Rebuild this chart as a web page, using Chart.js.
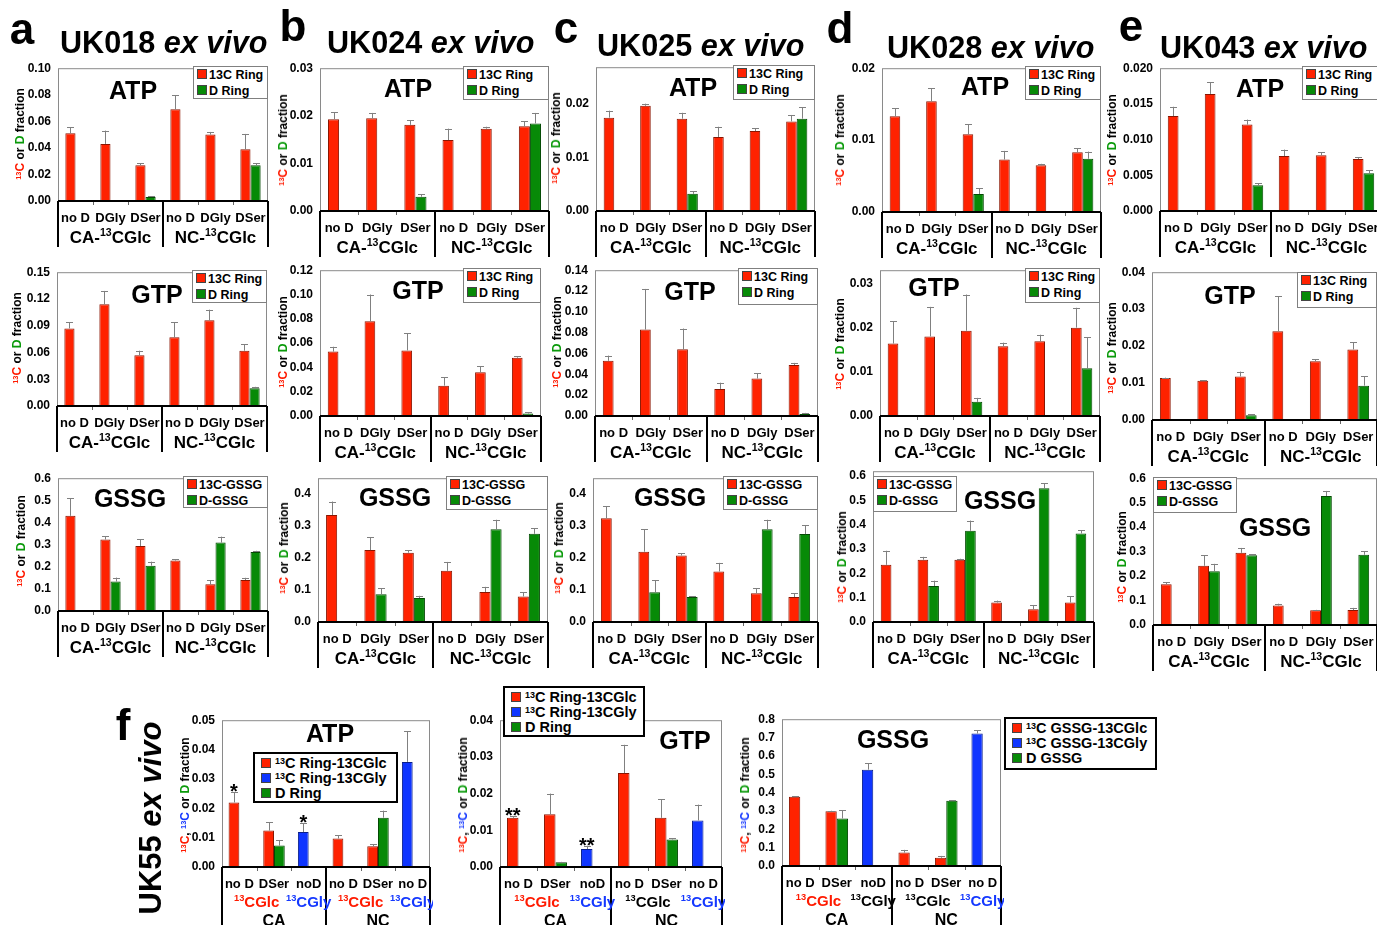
<!DOCTYPE html>
<html>
<head>
<meta charset="utf-8">
<title>UK ex vivo labelling</title>
<script src="https://cdn.jsdelivr.net/npm/chart.js@4.4.1/dist/chart.umd.min.js"></script>
<style>
  body { margin: 0; width: 1377px; height: 925px; overflow: hidden; position: relative; background: #fff;
         font-family: "Liberation Sans", Arial, sans-serif; font-weight: bold; color: #000; }
  canvas { position: absolute; }
  .txt { position: absolute; white-space: nowrap; line-height: 1; }
  .letter { font-size: 44px; transform: translate(-50%, -50%); }
  .head { font-size: 30.6px; transform: translateY(-50%); }
  .head i, .uk55 i { font-style: italic; }
  .ttl { font-size: 25px; transform: translate(-50%, -50%); }
  .ytl { font-size: 12px; transform: translate(-50%, -50%) rotate(-90deg); }
  .uk55 { font-size: 31px; transform: translate(-50%, -50%) rotate(-90deg); }
  .leg { position: absolute; box-sizing: border-box; background: #fff; border: 1px solid #808080;
         font-size: 12.5px; line-height: 16px; padding: 0 0 0 3px; white-space: nowrap; }
  .legf { border: 2px solid #000; font-size: 14.5px; line-height: 15px; padding: 2px 0 0 6px; }
  .sw { display: inline-block; width: 8px; height: 8px; border: 1px solid #444; margin-right: 2px; }
  .legf .sw { box-sizing: border-box; width: 10px; height: 10px; margin-right: 4px; }
  sup { font-size: 0.62em; vertical-align: 0.45em; line-height: 0; }
  .red { color: #ff1a00; } .grn { color: #0a9a0a; } .blu { color: #1438ff; }
</style>
</head>
<body>
<script>
// ---- labels ----
const cats = ['no D', 'DGly', 'DSer', 'no D', 'DGly', 'DSer'];
const groupLabels = ['CA-^13CGlc', 'NC-^13CGlc'];
const ringNames = ['13C Ring', 'D Ring'];
const gssgNames = ['13C-GSSG', 'D-GSSG'];
const headers = ['UK018', 'UK024', 'UK025', 'UK028', 'UK043'];

const fCats = ['no D', 'DSer', 'noD', 'no D', 'DSer', 'no D'];
const fSubLabels = ['^13CGlc', '^13CGly', '^13CGlc', '^13CGly'];
const fGroupLabels = ['CA', 'NC'];
const fRingNames = ['^13C Ring-13CGlc', '^13C Ring-13CGly', 'D Ring'];
const fGssgNames = ['^13C GSSG-13CGlc', '^13C GSSG-13CGly', 'D GSSG'];

// ---- ATP (row 1) ----
const atpA13C = [0.051, 0.043, 0.027, 0.069, 0.050, 0.039];
const atpA13CErr = [0.0045, 0.010, 0.0015, 0.0105, 0.002, 0.0115];
const atpAD = [null, null, 0.003, null, null, 0.027];
const atpADErr = [0, 0, 0.0007, 0, 0, 0.0015];

const atpB13C = [0.0193, 0.0195, 0.0181, 0.0149, 0.0173, 0.0178];
const atpB13CErr = [0.0014, 0.0011, 0.001, 0.0024, 0.0004, 0.0011];
const atpBD = [null, 0.0002, 0.003, null, null, 0.0184];
const atpBDErr = [0, 0, 0.0005, 0, 0, 0.0022];

const atpC13C = [0.0174, 0.0196, 0.0172, 0.0138, 0.0149, 0.0167];
const atpC13CErr = [0.0013, 0.0004, 0.0011, 0.0019, 0.0005, 0.0012];
const atpCD = [null, 0.0001, 0.0032, null, null, 0.0172];
const atpCDErr = [0, 0, 0.0005, 0, 0, 0.0021];

const atpD13C = [0.0133, 0.0154, 0.0108, 0.0073, 0.0065, 0.0083];
const atpD13CErr = [0.0011, 0.0018, 0.0014, 0.0012, 0.0002, 0.0006];
const atpDD = [0.0001, 0.0001, 0.0025, 0.0001, 0.0001, 0.0074];
const atpDDErr = [0, 0, 0.0008, 0, 0, 0.001];

const atpE13C = [0.0133, 0.0164, 0.0121, 0.0077, 0.0078, 0.0073];
const atpE13CErr = [0.0013, 0.0016, 0.0007, 0.0009, 0.0004, 0.0002];
const atpED = [0.0001, 0.0001, 0.0036, null, 0.0001, 0.0053];
const atpEDErr = [0, 0, 0.0003, 0, 0, 0.0004];

// ---- GTP (row 2) ----
const gtpA13C = [0.087, 0.114, 0.057, 0.077, 0.096, 0.062];
const gtpA13CErr = [0.007, 0.015, 0.005, 0.017, 0.012, 0.007];
const gtpAD = [null, null, 0.0005, null, null, 0.020];
const gtpADErr = [0, 0, 0, 0, 0, 0.0015];

const gtpB13C = [0.053, 0.078, 0.054, 0.025, 0.036, 0.048];
const gtpB13CErr = [0.004, 0.022, 0.014, 0.007, 0.005, 0.001];
const gtpBD = [null, 0.0005, null, null, 0.0005, 0.002];
const gtpBDErr = [0, 0, 0, 0, 0, 0.001];

const gtpC13C = [0.053, 0.083, 0.064, 0.026, 0.036, 0.049];
const gtpC13CErr = [0.005, 0.039, 0.020, 0.006, 0.005, 0.002];
const gtpCD = [null, 0.0005, null, null, 0.0005, 0.002];
const gtpCDErr = [0, 0, 0, 0, 0, 0.001];

const gtpD13C = [0.0164, 0.018, 0.0193, 0.0158, 0.0169, 0.020];
const gtpD13CErr = [0.005, 0.0067, 0.0082, 0.0008, 0.0015, 0.0045];
const gtpDD = [null, null, 0.0032, null, null, 0.0108];
const gtpDDErr = [0, 0, 0.0009, 0, 0, 0.007];

const gtpE13C = [0.0114, 0.0106, 0.0118, 0.024, 0.0159, 0.0191];
const gtpE13CErr = [0.0001, 0.0001, 0.0013, 0.0095, 0.0005, 0.002];
const gtpED = [0.0002, 0.0002, 0.0013, null, null, 0.0093];
const gtpEDErr = [0, 0, 0.0002, 0, 0, 0.0025];

// ---- GSSG (row 3) ----
const gssgA13C = [0.43, 0.323, 0.294, 0.228, 0.121, 0.14];
const gssgA13CErr = [0.08, 0.015, 0.03, 0.005, 0.018, 0.01];
const gssgAD = [null, 0.133, 0.205, null, 0.309, 0.267];
const gssgADErr = [0, 0.018, 0.018, 0, 0.027, 0.005];

const gssgB13C = [0.335, 0.225, 0.217, 0.16, 0.094, 0.08];
const gssgB13CErr = [0.042, 0.04, 0.008, 0.028, 0.016, 0.013];
const gssgBD = [null, 0.087, 0.075, null, 0.29, 0.276];
const gssgBDErr = [0, 0.018, 0.007, 0, 0.03, 0.017];

const gssgC13C = [0.325, 0.22, 0.208, 0.158, 0.09, 0.078];
const gssgC13CErr = [0.037, 0.07, 0.007, 0.027, 0.015, 0.012];
const gssgCD = [null, 0.093, 0.078, null, 0.29, 0.275];
const gssgCDErr = [0, 0.037, 0.002, 0, 0.03, 0.027];

const gssgD13C = [0.235, 0.256, 0.256, 0.08, 0.052, 0.08];
const gssgD13CErr = [0.058, 0.012, 0.004, 0.008, 0.018, 0.025];
const gssgDD = [null, 0.148, 0.375, null, 0.55, 0.364];
const gssgDDErr = [0, 0.022, 0.042, 0, 0.02, 0.014];

const gssgE13C = [0.167, 0.242, 0.295, 0.08, 0.06, 0.061];
const gssgE13CErr = [0.008, 0.043, 0.02, 0.007, 0.002, 0.009];
const gssgED = [0.003, 0.22, 0.285, 0.003, 0.527, 0.287];
const gssgEDErr = [0, 0.03, 0.005, 0, 0.021, 0.015];

// ---- UK55 (panel f) ----
const fAtpGlc = [0.022, 0.0124, null, 0.0097, 0.0071, null];
const fAtpGlcErr = [0.0035, 0.0028, 0, 0.0011, 0.0006, 0];
const fAtpGly = [null, null, 0.0119, null, null, 0.0358];
const fAtpGlyErr = [0, 0, 0.003, 0, 0, 0.0104];
const fAtpD = [null, 0.0073, 0.0001, null, 0.0168, 0.0001];
const fAtpDErr = [0, 0.0019, 0, 0, 0.0024, 0];
const fAtpGlcStars = ['*', '', '', '', '', ''];
const fAtpGlyStars = ['', '', '*', '', '', ''];

const fGtpGlc = [0.0134, 0.0144, null, 0.0256, 0.0134, null];
const fGtpGlcErr = [0.0005, 0.0056, 0, 0.0077, 0.005, 0];
const fGtpGly = [null, null, 0.0049, null, null, 0.0127];
const fGtpGlyErr = [0, 0, 0.0009, 0, 0, 0.0043];
const fGtpD = [null, 0.0013, null, null, 0.0075, null];
const fGtpDErr = [0, 0.0001, 0, 0, 0.0004, 0];
const fGtpGlcStars = ['**', '', '', '', '', ''];
const fGtpGlyStars = ['', '', '**', '', '', ''];

const fGssgGlc = [0.377, 0.298, null, 0.073, 0.045, null];
const fGssgGlcErr = [0.003, 0.003, 0, 0.015, 0.01, 0];
const fGssgGly = [null, null, 0.525, null, null, 0.722];
const fGssgGlyErr = [0, 0, 0.035, 0, 0, 0.018];
const fGssgD = [null, 0.259, 0.003, null, 0.355, null];
const fGssgDErr = [0, 0.046, 0, 0, 0.003, 0];

// ---- styling ----
const FONT = '"Liberation Sans", Arial, sans-serif';
const RED = '#ff2200', GREEN = '#078a07', BLUE = '#0f35ff';
const RED_EDGE = '#8a1500', GREEN_EDGE = '#034a03', BLUE_EDGE = '#0a1f8a';
const SUB_COLORS = { r: '#ff1a00', b: '#1438ff', k: '#000' };
Chart.defaults.font.family = FONT;

function two(names, c13, c13e, d, de) {
    return [
        { name: names[0], data: c13, err: c13e, color: RED, edge: RED_EDGE },
        { name: names[1], data: d, err: de, color: GREEN, edge: GREEN_EDGE }
    ];
}

function three(names, glc, glce, gly, glye, d, de, glcStars, glyStars) {
    return [
        { name: names[0], data: glc, err: glce, stars: glcStars, color: RED, edge: RED_EDGE, stack: 'L' },
        { name: names[1], data: gly, err: glye, stars: glyStars, color: BLUE, edge: BLUE_EDGE, stack: 'L' },
        { name: names[2], data: d, err: de, color: GREEN, edge: GREEN_EDGE, stack: 'R' }
    ];
}

const panels = [
    // ATP row
    { rect: [58, 66, 268, 201], max: 0.10, step: 0.02, dec: 2, leg: [193, 66, 268, 99], title: 'ATP', tpos: [133, 90], ypos: [20, 134],
      series: two(ringNames, atpA13C, atpA13CErr, atpAD, atpADErr) },
    { rect: [320, 66, 549, 211], max: 0.03, step: 0.01, dec: 2, leg: [463, 66, 549, 100], title: 'ATP', tpos: [408, 88], ypos: [283, 140],
      series: two(ringNames, atpB13C, atpB13CErr, atpBD, atpBDErr) },
    { rect: [596, 65, 815, 211], max: 0.0268, step: 0.01, dec: 2, leg: [733, 65, 815, 100], title: 'ATP', tpos: [693, 87], ypos: [556, 138],
      series: two(ringNames, atpC13C, atpC13CErr, atpCD, atpCDErr) },
    { rect: [882, 66, 1101, 212], max: 0.02, step: 0.01, dec: 2, leg: [1025, 66, 1101, 100], title: 'ATP', tpos: [985, 86], ypos: [840, 140],
      series: two(ringNames, atpD13C, atpD13CErr, atpDD, atpDDErr) },
    { rect: [1160, 66, 1382, 211], max: 0.02, step: 0.005, dec: 3, leg: [1302, 66, 1382, 100], title: 'ATP', tpos: [1260, 88], ypos: [1112, 140],
      series: two(ringNames, atpE13C, atpE13CErr, atpED, atpEDErr) },
    // GTP row
    { rect: [57, 270, 267, 406], max: 0.15, step: 0.03, dec: 2, leg: [192, 270, 267, 303], title: 'GTP', tpos: [157, 294], ypos: [17, 338],
      series: two(ringNames, gtpA13C, gtpA13CErr, gtpAD, gtpADErr) },
    { rect: [320, 268, 541, 416], max: 0.12, step: 0.02, dec: 2, leg: [463, 268, 541, 303], title: 'GTP', tpos: [418, 290], ypos: [283, 342],
      series: two(ringNames, gtpB13C, gtpB13CErr, gtpBD, gtpBDErr) },
    { rect: [595, 268, 818, 416], max: 0.14, step: 0.02, dec: 2, leg: [738, 268, 818, 305], title: 'GTP', tpos: [690, 291], ypos: [557, 342],
      series: two(ringNames, gtpC13C, gtpC13CErr, gtpCD, gtpCDErr) },
    { rect: [880, 268, 1100, 416], max: 0.033, step: 0.01, dec: 2, leg: [1025, 268, 1100, 303], title: 'GTP', tpos: [934, 287], ypos: [840, 344],
      series: two(ringNames, gtpD13C, gtpD13CErr, gtpDD, gtpDDErr) },
    { rect: [1152, 270, 1377, 420], max: 0.04, step: 0.01, dec: 2, leg: [1297, 272, 1377, 308], title: 'GTP', tpos: [1230, 295], ypos: [1112, 348],
      series: two(ringNames, gtpE13C, gtpE13CErr, gtpED, gtpEDErr) },
    // GSSG row
    { rect: [58, 476, 268, 611], max: 0.6, step: 0.1, dec: 1, leg: [183, 476, 268, 508], title: 'GSSG', tpos: [130, 498], ypos: [21, 541],
      series: two(gssgNames, gssgA13C, gssgA13CErr, gssgAD, gssgADErr) },
    { rect: [318, 476, 548, 622], max: 0.45, step: 0.1, dec: 1, leg: [446, 476, 548, 510], title: 'GSSG', tpos: [395, 497], ypos: [284, 548],
      series: two(gssgNames, gssgB13C, gssgB13CErr, gssgBD, gssgBDErr) },
    { rect: [593, 476, 818, 622], max: 0.45, step: 0.1, dec: 1, leg: [723, 476, 818, 510], title: 'GSSG', tpos: [670, 497], ypos: [559, 548],
      series: two(gssgNames, gssgC13C, gssgC13CErr, gssgCD, gssgCDErr) },
    { rect: [873, 469, 1094, 622], max: 0.62, step: 0.1, dec: 1, leg: [873, 476, 957, 512], title: 'GSSG', tpos: [1000, 500], ypos: [842, 557],
      series: two(gssgNames, gssgD13C, gssgD13CErr, gssgDD, gssgDDErr) },
    { rect: [1153, 476, 1377, 625], max: 0.6, step: 0.1, dec: 1, leg: [1153, 477, 1237, 513], title: 'GSSG', tpos: [1275, 527], ypos: [1122, 557],
      series: two(gssgNames, gssgE13C, gssgE13CErr, gssgED, gssgEDErr) },
    // UK55 row
    { f: true, rect: [222, 718, 430, 867], max: 0.05, step: 0.01, dec: 2, leg: [253, 752, 398, 803], title: 'ATP', tpos: [330, 733], ypos: [185, 795],
      subColors: ['r', 'b', 'r', 'b'],
      series: three(fRingNames, fAtpGlc, fAtpGlcErr, fAtpGly, fAtpGlyErr, fAtpD, fAtpDErr, fAtpGlcStars, fAtpGlyStars) },
    { f: true, rect: [500, 718, 722, 867], max: 0.04, step: 0.01, dec: 2, leg: [503, 686, 645, 737], title: 'GTP', tpos: [685, 740], ypos: [463, 795],
      subColors: ['r', 'b', 'k', 'b'],
      series: three(fRingNames, fGtpGlc, fGtpGlcErr, fGtpGly, fGtpGlyErr, fGtpD, fGtpDErr, fGtpGlcStars, fGtpGlyStars) },
    { f: true, rect: [782, 717, 1001, 866], max: 0.8, step: 0.1, dec: 1, leg: [1004, 717, 1157, 770], title: 'GSSG', tpos: [893, 739], ypos: [745, 795],
      subColors: ['r', 'k', 'k', 'b'],
      series: three(fGssgNames, fGssgGlc, fGssgGlcErr, fGssgGly, fGssgGlyErr, fGssgD, fGssgDErr) }
];

const letters = [['a', 22, 29], ['b', 293, 26], ['c', 566, 28], ['d', 840, 28], ['e', 1131, 26], ['f', 123, 725]];
const headerPos = [[60, 42], [327, 42], [597, 45], [887, 47], [1160, 47]];

// ---- helpers ----
function sup(s) { return s.replace(/\^(\d+)/g, '<sup>$1</sup>'); }

function addDiv(cls, style, html) {
    const d = document.createElement('div');
    d.className = cls;
    d.style.cssText = style;
    d.innerHTML = html;
    document.body.appendChild(d);
    return d;
}

function richParts(s) {
    const out = [];
    const re = /\^(\d+)/g;
    let last = 0, m;
    while ((m = re.exec(s))) {
        if (m.index > last) out.push({ t: s.slice(last, m.index) });
        out.push({ t: m[1], sup: true });
        last = re.lastIndex;
    }
    if (last < s.length) out.push({ t: s.slice(last) });
    return out;
}

function drawRich(ctx, s, cx, cy, size, color) {
    const parts = richParts(s);
    const fnt = sz => `bold ${sz}px ${FONT}`;
    let w = 0;
    parts.forEach(p => {
        ctx.font = fnt(p.sup ? size * 0.62 : size);
        p.w = ctx.measureText(p.t).width;
        w += p.w;
    });
    let x = cx - w / 2;
    ctx.textAlign = 'left';
    ctx.textBaseline = 'middle';
    ctx.fillStyle = color;
    parts.forEach(p => {
        ctx.font = fnt(p.sup ? size * 0.62 : size);
        ctx.fillText(p.t, x, p.sup ? cy - size * 0.28 : cy);
        x += p.w;
    });
}

// frame, error bars, stars, axis line and the grouped category labels
function decor(p) {
    return {
        id: 'decor',
        afterDatasetsDraw(chart) {
            const { ctx, chartArea: ca, scales: { x, y } } = chart;
            ctx.save();
            ctx.strokeStyle = '#8a8a8a';
            ctx.lineWidth = 1;
            ctx.strokeRect(ca.left + 0.5, ca.top + 0.5, ca.right - ca.left - 1, ca.bottom - ca.top);

            chart.data.datasets.forEach((ds, i) => {
                const meta = chart.getDatasetMeta(i);
                ds.data.forEach((v, j) => {
                    if (v == null) return;
                    const el = meta.data[j];
                    const e = ds.errorBars[j] || 0;
                    const top = y.getPixelForValue(v + e);
                    if (e > 0) {
                        ctx.strokeStyle = '#808080';
                        ctx.lineWidth = 1;
                        ctx.beginPath();
                        ctx.moveTo(Math.round(el.x) + 0.5, el.y);
                        ctx.lineTo(Math.round(el.x) + 0.5, top);
                        ctx.moveTo(Math.round(el.x) - 3, Math.round(top) + 0.5);
                        ctx.lineTo(Math.round(el.x) + 4, Math.round(top) + 0.5);
                        ctx.stroke();
                    }
                    if (ds.stars && ds.stars[j]) {
                        ctx.fillStyle = '#000';
                        ctx.font = `bold 20px ${FONT}`;
                        ctx.textAlign = 'center';
                        ctx.textBaseline = 'alphabetic';
                        ctx.fillText(ds.stars[j], el.x, top + 6);
                    }
                });
            });
            ctx.restore();
        },
        afterDraw(chart) {
            const { ctx, chartArea: ca, scales: { x } } = chart;
            const px = i => x.getPixelForValue(i);
            const mid = (px(2) + px(3)) / 2;
            const sepLen = p.f ? 70 : 46;
            ctx.save();
            // small category ticks
            ctx.strokeStyle = '#666';
            ctx.lineWidth = 1;
            ctx.beginPath();
            [1, 2, 4, 5].forEach(k => {
                const bx = Math.round((px(k - 1) + px(k)) / 2) + 0.5;
                ctx.moveTo(bx, ca.bottom);
                ctx.lineTo(bx, ca.bottom + 4);
            });
            ctx.stroke();
            // axis line and group separators
            ctx.strokeStyle = '#000';
            ctx.lineWidth = 2;
            ctx.beginPath();
            ctx.moveTo(ca.left, ca.bottom);
            ctx.lineTo(ca.right, ca.bottom);
            [ca.left, Math.round(mid), ca.right].forEach(sx => {
                ctx.moveTo(sx, ca.bottom);
                ctx.lineTo(sx, ca.bottom + sepLen);
            });
            ctx.stroke();
            // category labels
            ctx.fillStyle = '#000';
            ctx.font = `bold 13px ${FONT}`;
            ctx.textAlign = 'center';
            ctx.textBaseline = 'middle';
            chart.data.labels.forEach((lab, i) => ctx.fillText(lab, px(i), ca.bottom + 17));
            const g0 = (px(0) + px(2)) / 2, g1 = (px(3) + px(5)) / 2;
            if (!p.f) {
                drawRich(ctx, groupLabels[0], g0, ca.bottom + 37, 17, '#000');
                drawRich(ctx, groupLabels[1], g1, ca.bottom + 37, 17, '#000');
            } else {
                const subX = [(px(0) + px(1)) / 2, px(2), (px(3) + px(4)) / 2, px(5)];
                fSubLabels.forEach((s, i) => drawRich(ctx, s, subX[i], ca.bottom + 36, 15, SUB_COLORS[p.subColors[i]]));
                ctx.fillStyle = '#000';
                ctx.font = `bold 16px ${FONT}`;
                ctx.textAlign = 'center';
                ctx.fillText(fGroupLabels[0], g0, ca.bottom + 55);
                ctx.fillText(fGroupLabels[1], g1, ca.bottom + 55);
            }
            ctx.restore();
        }
    };
}

function buildPanel(p) {
    const [L, T, R, B] = p.rect;
    const YW = 48, PT = 12, PR = 3, XH = p.f ? 72 : 60;
    const cv = document.createElement('canvas');
    cv.width = R - L + YW + PR;
    cv.height = B - T + PT + XH;
    cv.style.left = (L - YW) + 'px';
    cv.style.top = (T - PT) + 'px';
    document.body.appendChild(cv);

    new Chart(cv, {
        type: 'bar',
        data: {
            labels: p.f ? fCats : cats,
            datasets: p.series.map(s => ({
                label: s.name,
                data: s.data,
                errorBars: s.err,
                stars: s.stars,
                stack: s.stack,
                backgroundColor: s.color,
                borderColor: s.edge,
                borderWidth: 1,
                categoryPercentage: p.f ? 0.62 : 0.58,
                barPercentage: 1
            }))
        },
        options: {
            responsive: false,
            animation: false,
            devicePixelRatio: 1,
            layout: { padding: { left: 0, top: PT, right: PR, bottom: 0 } },
            plugins: { legend: { display: false }, tooltip: { enabled: false } },
            scales: {
                x: {
                    stacked: !!p.f,
                    grid: { display: false, drawTicks: false },
                    border: { display: false },
                    ticks: { display: false },
                    afterFit: s => { s.height = XH; }
                },
                y: {
                    stacked: !!p.f,
                    min: 0,
                    max: p.max,
                    grid: { display: false, drawTicks: false },
                    border: { display: false },
                    ticks: {
                        stepSize: p.step,
                        includeBounds: false,
                        padding: 7,
                        color: '#000',
                        font: { family: FONT, size: 12, weight: 'bold' },
                        callback: v => v.toFixed(p.dec)
                    },
                    afterFit: s => { s.width = YW; }
                }
            }
        },
        plugins: [decor(p)]
    });
}

function addOverlays(p) {
    addDiv('txt ttl', `left:${p.tpos[0]}px;top:${p.tpos[1]}px`, p.title);
    const yt = p.f
        ? '<span class="red"><sup>13</sup>C</span>, <span class="blu"><sup>13</sup>C</span> or <span class="grn">D</span> fraction'
        : '<span class="red"><sup>13</sup>C</span> or <span class="grn">D</span> fraction';
    addDiv('txt ytl', `left:${p.ypos[0]}px;top:${p.ypos[1]}px`, yt);
    const [x1, y1, x2, y2] = p.leg;
    addDiv(p.f ? 'leg legf' : 'leg', `left:${x1}px;top:${y1}px;width:${x2 - x1}px;height:${y2 - y1}px`,
        p.series.map(s => `<div><span class="sw" style="background:${s.color}"></span>${sup(s.name)}</div>`).join(''));
}

panels.forEach(buildPanel);
panels.forEach(addOverlays);

letters.forEach(([t, x, y]) => addDiv('txt letter', `left:${x}px;top:${y}px`, t));
headers.forEach((h, i) => addDiv('txt head', `left:${headerPos[i][0]}px;top:${headerPos[i][1]}px`, `${h} <i>ex vivo</i>`));
addDiv('txt uk55', 'left:150px;top:818px', 'UK55 <i>ex vivo</i>');
</script>
</body>
</html>
